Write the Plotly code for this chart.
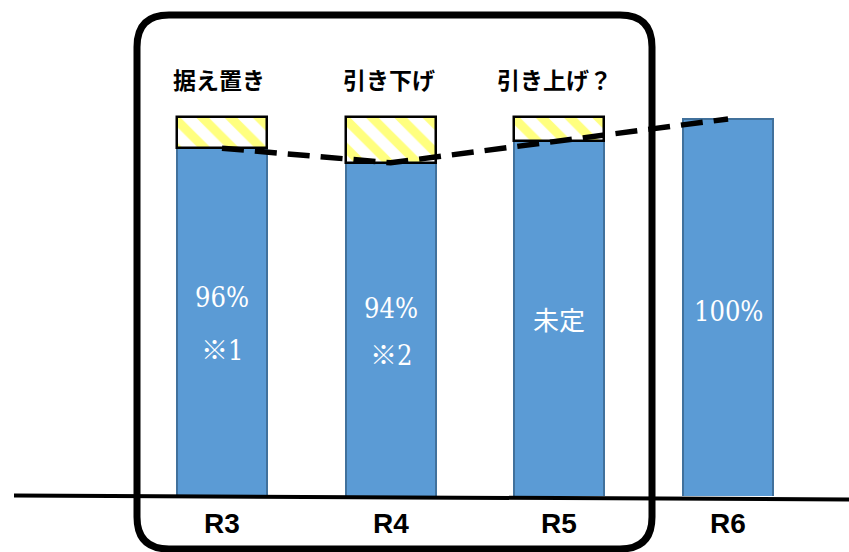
import plotly.graph_objects as go

# ---- data -------------------------------------------------------------
years = ["R3", "R4", "R5", "R6"]
rate = [96, 94, 97, 100]            # R5 is still undecided
bar_labels = ["96%", "94%", "未定", "100%"]
notes = ["※1", "※2", "", ""]
headings = ["据え置き", "引き下げ", "引き上げ？"]
gap_years = ["R3", "R4", "R5"]
gap_base = [96, 94, 97]
gap_top = 100.3
trend = [96, 94, None, 100]

# ---- canvas geometry (pixels) ------------------------------------------
W, H = 849, 552
PLOT_H = 496                       # plot area height; axis baseline sits here
Y_LO, Y_HI = 48.36, 116.30
X_LO, X_HI = -1.316, 3.717


def px(x):
    return x / W


def py(y):
    return 1 - y / PLOT_H


BLUE = "#5B9BD5"
BLUE_EDGE = "#41719C"
SERIF = "DejaVu Serif Condensed, DejaVu Serif, Noto Sans CJK JP"

fig = go.Figure()

fig.add_trace(go.Bar(
    x=years, y=rate, width=0.535,
    marker=dict(color=BLUE, line=dict(color=BLUE_EDGE, width=2)),
    hoverinfo="skip", showlegend=False,
))

fig.add_trace(go.Bar(
    x=gap_years, y=[gap_top - b for b in gap_base], base=gap_base, width=0.535,
    marker=dict(
        color="white",
        line=dict(color="black", width=2.5),
        pattern=dict(shape="\\", fgcolor="#FFFF00", bgcolor="white",
                     size=20, solidity=0.45),
    ),
    hoverinfo="skip", showlegend=False,
))

fig.add_trace(go.Scatter(
    x=years, y=trend, mode="lines", connectgaps=True,
    line=dict(color="black", width=5.5, dash="22px,11px"),
    hoverinfo="skip", showlegend=False,
))

annotations = []

# values inside the bars
value_py = [297, 308, 318, 311]
for yr, lab, yp in zip(years, bar_labels, value_py):
    if lab == "未定":
        font = dict(family="Noto Sans CJK JP", size=26, color="white")
    else:
        font = dict(family=SERIF, size=27, color="white")
    annotations.append(dict(
        x=yr, y=py(yp), xref="x", yref="paper", text=lab, showarrow=False,
        font=font, xanchor="center", yanchor="middle",
    ))
note_py = [350, 355, 0, 0]
for yr, note, yp in zip(years, notes, note_py):
    if note:
        annotations.append(dict(
            x=yr, y=py(yp), xref="x", yref="paper", text=note, showarrow=False,
            font=dict(family=SERIF, size=27, color="white"),
            xanchor="center", yanchor="middle",
        ))

# headings above the first three bars
heading_x = [-0.02, 0.99, 1.97]
for hx, txt in zip(heading_x, headings):
    annotations.append(dict(
        x=hx, y=py(79), xref="x", yref="paper", text="<b>" + txt + "</b>",
        showarrow=False, font=dict(family="Noto Sans CJK JP", size=23, color="black"),
        xanchor="center", yanchor="middle",
    ))

# category labels under the baseline
for yr in years:
    annotations.append(dict(
        x=yr, y=py(523), xref="x", yref="paper", text="<b>" + yr + "</b>",
        showarrow=False,
        font=dict(family="Liberation Sans Narrow, Arial Narrow, Liberation Sans",
                  size=28, color="black"),
        xanchor="center", yanchor="middle",
    ))

# rounded frame around R3–R5
L, R, T, B, r = 137, 652, 15, 549, 32
frame = (
    f"M {px(L+r)},{py(T)} L {px(R-r)},{py(T)} "
    f"Q {px(R)},{py(T)} {px(R)},{py(T+r)} "
    f"L {px(R)},{py(B-r)} Q {px(R)},{py(B)} {px(R-r)},{py(B)} "
    f"L {px(L+r)},{py(B)} Q {px(L)},{py(B)} {px(L)},{py(B-r)} "
    f"L {px(L)},{py(T+r)} Q {px(L)},{py(T)} {px(L+r)},{py(T)} Z"
)

shapes = [
    dict(type="line", xref="paper", yref="paper",
         x0=px(14), y0=py(495.5), x1=px(W), y1=py(499.5),
         line=dict(color="black", width=4), layer="above"),
    dict(type="path", xref="paper", yref="paper", path=frame,
         line=dict(color="black", width=7), layer="above"),
]

fig.update_layout(
    width=W, height=H,
    margin=dict(l=0, r=0, t=0, b=H - PLOT_H, pad=0),
    paper_bgcolor="white", plot_bgcolor="white",
    barmode="overlay", bargap=0,
    xaxis=dict(range=[X_LO, X_HI], showticklabels=False, showgrid=False,
               zeroline=False, showline=False, fixedrange=True),
    yaxis=dict(range=[Y_LO, Y_HI], visible=False, fixedrange=True),
    annotations=annotations,
    shapes=shapes,
    showlegend=False,
)

fig.write_html("out.html", config={"displayModeBar": False})
